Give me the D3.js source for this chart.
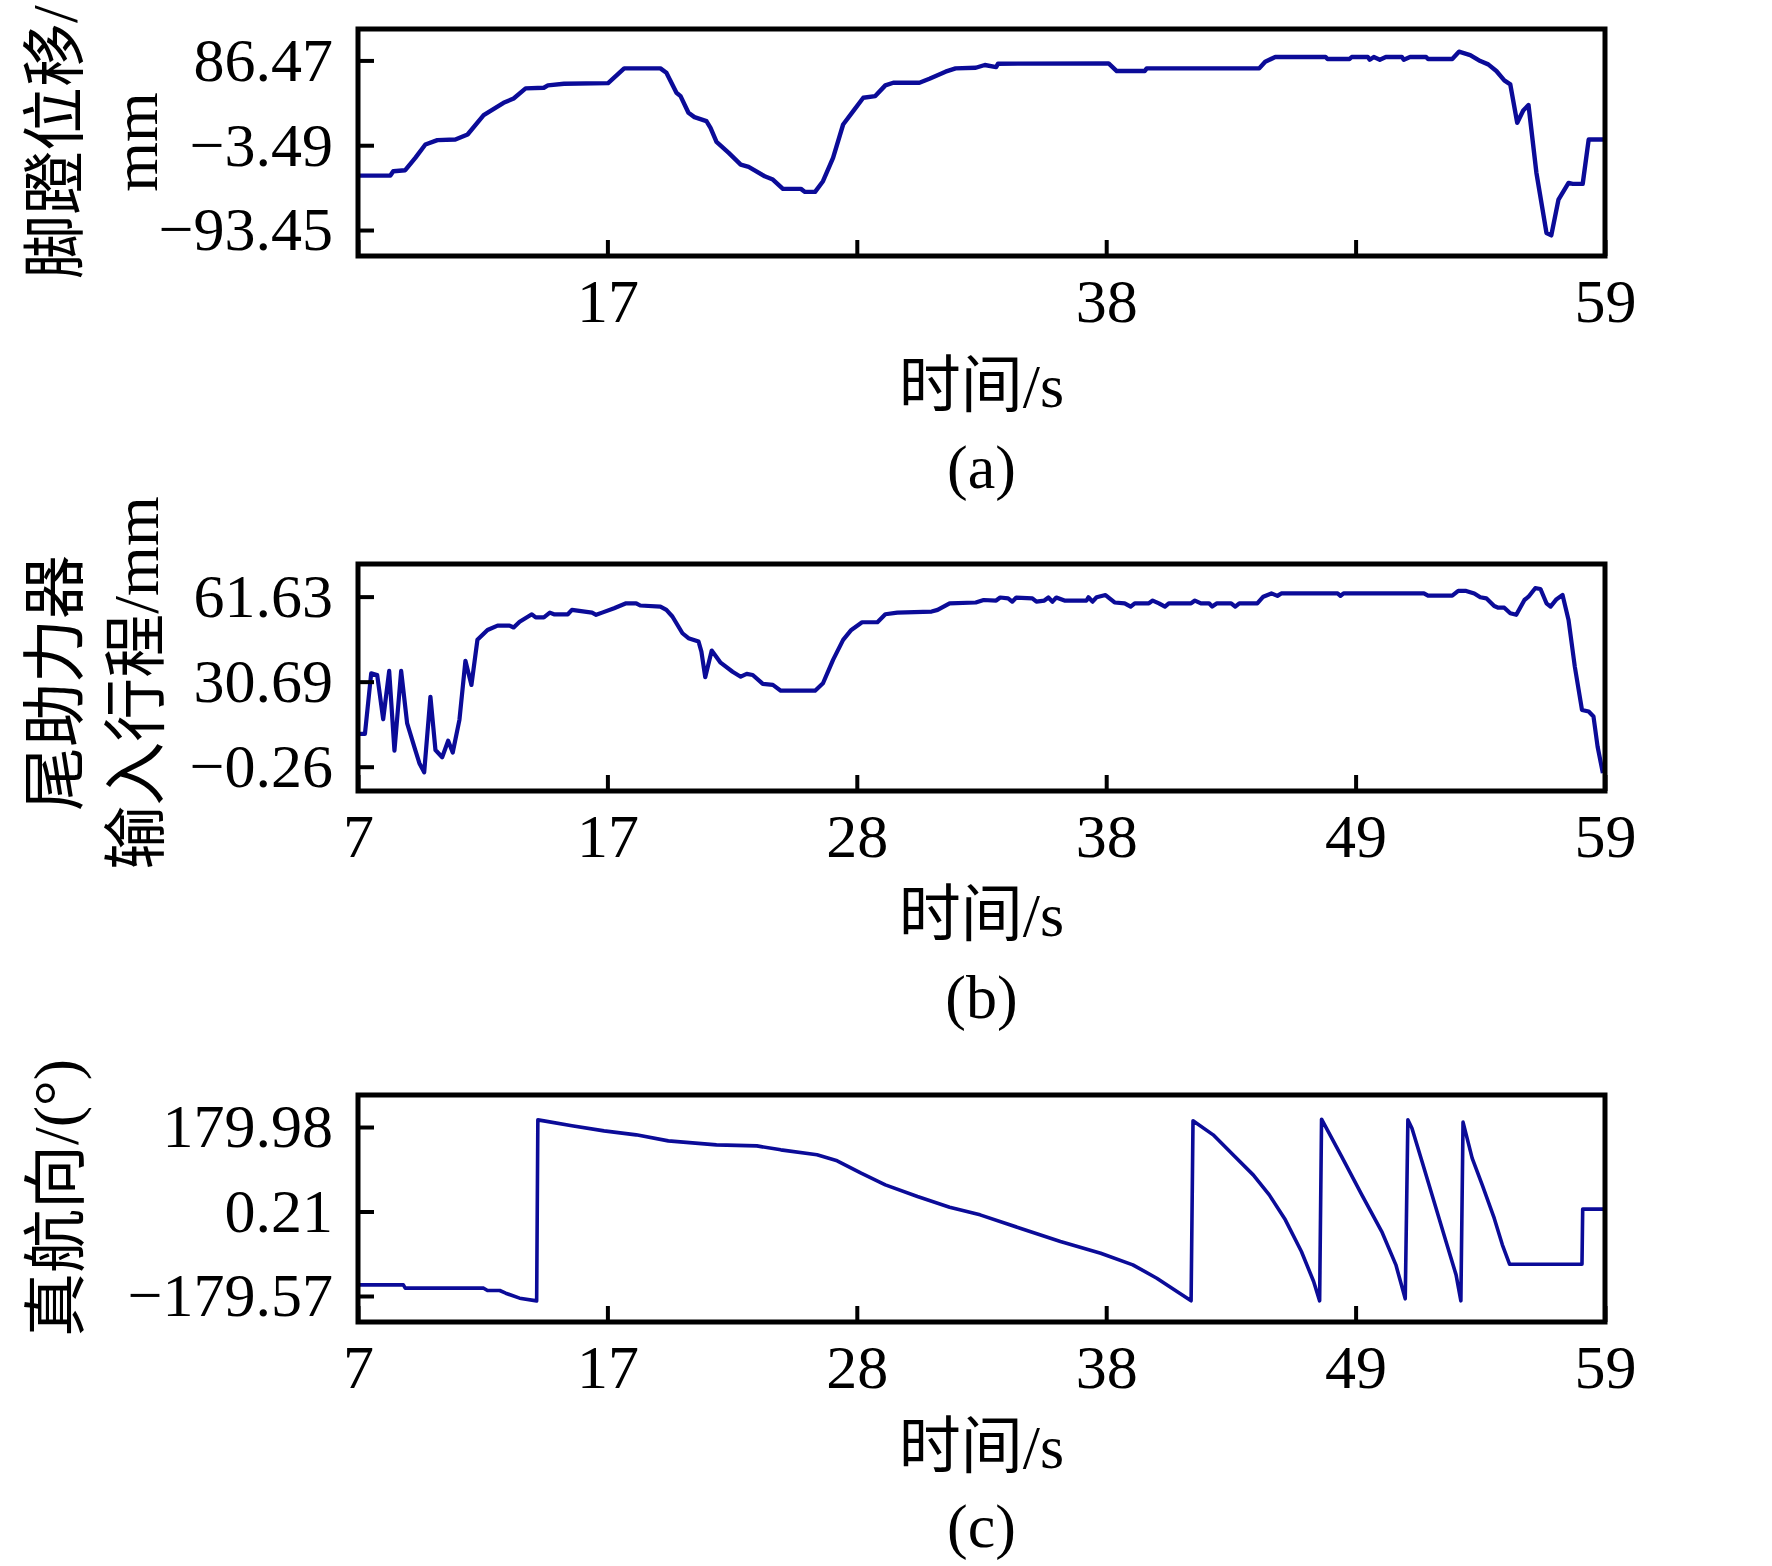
<!DOCTYPE html>
<html>
<head>
<meta charset="utf-8">
<script src="https://cdn.jsdelivr.net/npm/d3@7"></script>
<style>
  html, body { margin: 0; padding: 0; background: #fff; }
  svg { display: block; }
  text { font-family: "Liberation Serif", "Noto Sans CJK SC", serif; fill: #000; }
</style>
</head>
<body>
<div id="container"></div>
<script>
// time axis (s): ticks are evenly spaced, labels are rounded
const timeTicks = [7, 17.4, 27.8, 38.2, 48.6, 59];
const timeTickLabels = ["7", "17", "28", "38", "49", "59"];

// y ticks for each panel
const pedalTicks = [86.47, -3.49, -93.45];
const boosterTicks = [61.63, 30.69, -0.26];
const headingTicks = [179.98, 0.21, -179.57];

// (a) pedal displacement [t, mm]
const pedal = [
  [7.0, -35.7], [8.35, -35.7], [8.47, -31.1], [8.97, -30.0], [9.39, -16.9], [9.81, -2.7],
  [10.31, 1.9], [11.06, 2.6], [11.57, 7.9], [12.24, 28.4], [13.07, 41.5], [13.49, 46.1],
  [13.99, 56.8], [14.75, 57.5], [14.92, 60.0], [15.59, 61.7], [17.43, 62.4], [18.10, 78.0],
  [19.61, 78.0], [19.86, 73.4], [20.28, 52.2], [20.45, 48.6], [20.78, 30.9], [21.03, 26.3],
  [21.53, 22.1], [21.70, 15.0], [21.95, 0.1], [22.46, -11.6], [22.96, -24.0], [23.29, -26.5],
  [23.96, -36.4], [24.30, -39.9], [24.72, -49.8], [25.47, -49.8], [25.64, -53.0], [26.06, -53.0],
  [26.39, -41.7], [26.81, -16.9], [27.23, 18.5], [27.65, 32.7], [28.07, 46.9], [28.57, 48.6],
  [28.99, 60.0], [29.32, 62.8], [30.41, 62.8], [30.83, 67.0], [31.50, 74.5], [31.92, 78.0],
  [32.76, 78.7], [33.14, 81.6], [33.61, 79.4], [33.69, 83.0], [38.30, 83.3], [38.64, 75.2],
  [39.81, 75.2], [39.89, 78.0], [44.58, 78.0], [44.83, 85.1], [45.25, 90.1], [47.35, 90.1],
  [47.43, 88.0], [48.35, 88.0], [48.44, 90.1], [49.11, 90.1], [49.19, 87.2], [49.36, 90.1],
  [49.61, 87.2], [49.86, 90.1], [50.53, 90.1], [50.61, 87.2], [50.87, 90.1], [51.54, 90.1],
  [51.62, 88.0], [52.63, 88.0], [52.91, 95.7], [53.38, 92.2], [53.80, 85.8], [54.13, 82.3],
  [54.47, 75.2], [54.80, 65.3], [55.05, 61.0], [55.34, 20.3], [55.59, 33.4], [55.81, 39.1],
  [56.14, -32.8], [56.56, -96.6], [56.76, -99.1], [57.06, -61.2], [57.48, -43.5], [57.65, -44.5],
  [58.07, -44.5], [58.32, 2.6], [58.95, 2.6]
];

// (b) tail booster input stroke [t, mm]
const booster = [
  [7.0, 11.7], [7.29, 11.7], [7.55, 33.7], [7.80, 33.1], [8.05, 17.0], [8.30, 34.6],
  [8.52, 5.6], [8.80, 34.6], [9.05, 15.5], [9.39, 5.8], [9.56, 1.0], [9.76, -2.3],
  [10.02, 25.2], [10.23, 5.8], [10.51, 3.2], [10.76, 9.2], [10.95, 4.9], [11.23, 16.8],
  [11.48, 38.3], [11.73, 29.5], [11.98, 45.9], [12.40, 49.5], [12.82, 51.1], [13.32, 51.1],
  [13.49, 50.4], [13.74, 52.5], [14.25, 55.2], [14.41, 54.1], [14.75, 54.1], [15.00, 55.8],
  [15.17, 55.2], [15.75, 55.2], [15.92, 56.8], [16.76, 55.8], [16.93, 55.0], [17.18, 55.8],
  [17.68, 57.4], [18.18, 59.2], [18.60, 59.2], [18.77, 58.4], [19.61, 58.0], [19.86, 56.8],
  [20.11, 54.4], [20.53, 48.3], [20.78, 46.5], [21.20, 45.3], [21.32, 41.6], [21.48, 32.3],
  [21.75, 42.0], [22.12, 37.6], [22.62, 34.3], [22.96, 32.5], [23.21, 33.5], [23.46, 33.1],
  [23.88, 29.9], [24.30, 29.5], [24.63, 27.4], [26.06, 27.4], [26.39, 30.1], [26.81, 38.6],
  [27.23, 45.9], [27.57, 49.5], [28.02, 52.3], [28.66, 52.3], [28.99, 55.2], [29.49, 55.8],
  [30.92, 56.2], [31.17, 56.8], [31.67, 59.2], [32.76, 59.5], [33.09, 60.4], [33.61, 60.2],
  [33.78, 61.3], [34.11, 61.0], [34.28, 59.8], [34.45, 61.3], [35.12, 61.0], [35.29, 59.8],
  [35.62, 60.2], [35.79, 61.3], [35.96, 59.8], [36.12, 61.3], [36.46, 60.2], [37.38, 60.2],
  [37.46, 61.4], [37.63, 59.8], [37.80, 61.4], [38.17, 62.2], [38.55, 59.5], [38.97, 59.2],
  [39.22, 58.0], [39.39, 59.2], [39.98, 59.2], [40.14, 60.2], [40.40, 59.2], [40.65, 58.0],
  [40.81, 59.2], [41.74, 59.2], [41.90, 60.2], [42.15, 59.2], [42.49, 59.2], [42.62, 58.0],
  [42.82, 59.2], [43.41, 59.2], [43.58, 58.0], [43.75, 59.2], [44.50, 59.2], [44.75, 61.6],
  [45.09, 62.8], [45.34, 61.9], [45.50, 62.8], [47.85, 62.8], [47.97, 61.9], [48.10, 62.8],
  [51.45, 62.8], [51.62, 62.0], [52.63, 62.0], [52.88, 63.7], [53.21, 63.7], [53.55, 62.8],
  [53.80, 61.4], [54.05, 61.0], [54.38, 58.2], [54.55, 57.6], [54.80, 57.6], [55.05, 55.6],
  [55.30, 55.0], [55.64, 60.4], [55.81, 61.6], [56.09, 64.7], [56.31, 64.4], [56.56, 59.2],
  [56.73, 58.0], [56.98, 60.7], [57.23, 62.2], [57.48, 53.1], [57.74, 36.2], [58.04, 20.4],
  [58.32, 19.8], [58.52, 18.0], [58.69, 7.1], [58.91, -2.6]
];

// (c) true heading [t, deg]
const heading = [
  [7.0, -155.8], [8.89, -155.8], [8.97, -162.9], [12.24, -162.9], [12.40, -167.9], [12.91, -167.9],
  [13.16, -173.6], [13.74, -184.2], [14.45, -189.9], [14.50, 195.2], [14.75, 193.1], [15.92, 182.5],
  [17.26, 171.8], [18.60, 163.3], [19.94, 150.5], [21.95, 142.0], [23.63, 139.9], [24.63, 131.4],
  [26.14, 120.8], [26.98, 108.0], [27.98, 81.7], [28.99, 56.9], [30.33, 32.1], [31.67, 9.4],
  [32.94, -6.9], [34.61, -35.3], [36.29, -63.6], [37.97, -88.5], [39.31, -113.3], [40.31, -141.7],
  [41.15, -170.0], [41.74, -189.9], [41.82, 193.1], [42.66, 163.3], [43.49, 120.8], [44.33, 78.2],
  [45.00, 35.6], [45.67, -17.5], [46.34, -84.9], [46.85, -148.7], [47.10, -189.9], [47.18, 196.6],
  [48.02, 117.2], [48.86, 35.6], [49.69, -42.4], [50.28, -113.3], [50.67, -185.6], [50.78, 195.2],
  [50.95, 177.5], [51.37, 106.6], [51.87, 21.5], [52.37, -63.6], [52.79, -134.6], [52.99, -189.9],
  [53.08, 190.3], [53.46, 113.7], [53.88, 56.9], [54.38, -14.0], [54.72, -70.7], [55.02, -111.9],
  [58.04, -111.9], [58.07, 5.2], [58.95, 5.2]
];

const width = 1772;
const height = 1566;
const left = 358, right = 1605;
const fontSize = 62;
const lineColor = "#0b0b98";

const panels = [
  { data: pedal, ticks: pedalTicks, domain: [-121.0, 119.8], top: 29, bottom: 256,
    shown: ["17", "38", "59"], lw: 4.4,
    title: [{ text: "脚蹬位移/", x: 77 }, { text: "mm", x: 157 }], titleY: 142,
    xlabY: 407, capY: 488, cap: "(a)" },
  { data: booster, ticks: boosterTicks, domain: [-9.1, 73.5], top: 564, bottom: 791,
    shown: timeTickLabels, lw: 4.2,
    title: [{ text: "尾助力器", x: 77 }, { text: "输入行程/mm", x: 158 }], titleY: 683,
    xlabY: 936, capY: 1018, cap: "(b)" },
  { data: heading, ticks: headingTicks, domain: [-234.9, 248.1], top: 1095, bottom: 1322,
    shown: timeTickLabels, lw: 3.6,
    title: [{ text: "真航向/(°)", x: 78 }], titleY: 1198,
    xlabY: 1468, capY: 1547, cap: "(c)" }
];

const fmt = d => (d < 0 ? "\u2212" + Math.abs(d).toFixed(2) : d.toFixed(2));

const svg = d3.select("#container").append("svg")
    .attr("width", width)
    .attr("height", height);

svg.append("rect").attr("width", width).attr("height", height).attr("fill", "#fff");

const x = d3.scaleLinear().domain([7, 59]).range([left, right]);

panels.forEach(p => {
    const y = d3.scaleLinear().domain(p.domain).range([p.bottom, p.top]);
    const g = svg.append("g");

    // data line
    g.append("path")
        .datum(p.data)
        .attr("fill", "none")
        .attr("stroke", lineColor)
        .attr("stroke-width", p.lw)
        .attr("stroke-linejoin", "round")
        .attr("d", d3.line().x(d => x(d[0])).y(d => y(d[1])));

    // y axis, ticks pointing inward
    const ya = g.append("g")
        .attr("transform", `translate(${left},0)`)
        .call(d3.axisLeft(y).tickValues(p.ticks).tickFormat(fmt)
            .tickSizeInner(-16).tickSizeOuter(0).tickPadding(25));
    ya.select(".domain").remove();
    ya.selectAll(".tick line").attr("stroke", "#000").attr("stroke-width", 4);
    ya.selectAll(".tick text")
        .attr("font-size", fontSize)
        .attr("font-family", "Liberation Serif, serif");

    // x axis
    const xa = g.append("g")
        .attr("transform", `translate(0,${p.bottom})`)
        .call(d3.axisBottom(x).tickValues(timeTicks)
            .tickFormat((d, i) => p.shown.includes(timeTickLabels[i]) ? timeTickLabels[i] : "")
            .tickSizeInner(-16).tickSizeOuter(0).tickPadding(22));
    xa.select(".domain").remove();
    xa.selectAll(".tick line").attr("stroke", "#000").attr("stroke-width", 4);
    xa.selectAll(".tick text")
        .attr("font-size", fontSize)
        .attr("font-family", "Liberation Serif, serif");

    // frame
    g.append("rect")
        .attr("x", left)
        .attr("y", p.top)
        .attr("width", right - left)
        .attr("height", p.bottom - p.top)
        .attr("fill", "none")
        .attr("stroke", "#000")
        .attr("stroke-width", 5);

    // y title (rotated, one or two columns)
    p.title.forEach(t => {
        g.append("text")
            .attr("transform", `translate(${t.x},${p.titleY}) rotate(-90)`)
            .attr("text-anchor", "middle")
            .attr("font-size", 64)
            .text(t.text);
    });

    // x title and caption
    g.append("text")
        .attr("x", (left + right) / 2)
        .attr("y", p.xlabY)
        .attr("text-anchor", "middle")
        .attr("font-size", 62)
        .text("时间/s");

    g.append("text")
        .attr("x", (left + right) / 2)
        .attr("y", p.capY)
        .attr("text-anchor", "middle")
        .attr("font-size", 62)
        .text(p.cap);
});
</script>
</body>
</html>
